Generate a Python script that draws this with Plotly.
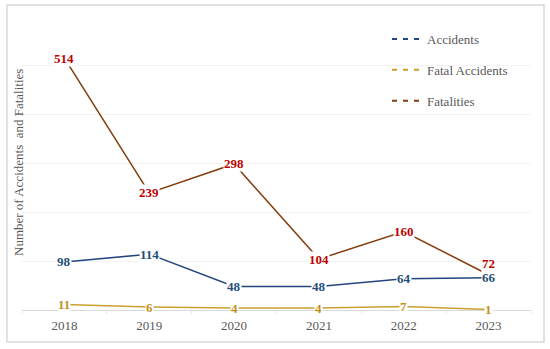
import plotly.graph_objects as go

years = ["2018", "2019", "2020", "2021", "2022", "2023"]
accidents = [98, 114, 48, 48, 64, 66]
fatal_accidents = [11, 6, 4, 4, 7, 1]
fatalities = [514, 239, 298, 104, 160, 72]

series = [
    ("Accidents", accidents, "#24467e", "#1f4e79"),
    ("Fatal Accidents", fatal_accidents, "#c9a030", "#c58f1f"),
    ("Fatalities", fatalities, "#843c0c", "#c00000"),
]

serif = "Liberation Serif"
fig = go.Figure()

for i, (name, vals, lc, tc) in enumerate(series):
    fig.add_trace(go.Scatter(x=years, y=vals, mode="lines", name=name,
                             line=dict(color=lc, width=1.5), showlegend=False,
                             hoverinfo="skip"))
    # legend entries with dashed symbol
    fig.add_trace(go.Scatter(x=[None], y=[None], mode="lines", name=name,
                             legendgroup=name,
                             line=dict(color=lc, width=2, dash="5px,6px")))
    for j, v in enumerate(vals):
        ys = 0
        if name == "Fatalities" and j == len(vals) - 1:
            ys = 11
        fig.add_annotation(x=j, y=v, xref="x", yref="y", text=f"<b>{v}</b>",
                           showarrow=False,
                           font=dict(family=serif, size=13, color=tc),
                           bgcolor="white", borderpad=0, yshift=ys)

W, H = 550, 349
ml, mr, mt, mb = 22, 19, 16, 39
pw, ph = W - ml - mr, H - mt - mb

def px(x):
    return (x - ml) / pw

def py(y):
    return (H - mb - y) / ph

fig.add_shape(type="rect", xref="paper", yref="paper",
              x0=px(7), x1=px(544), y0=py(342), y1=py(5),
              line=dict(color="#d9d9d9", width=1.5), layer="below")

fig.add_annotation(xref="paper", yref="paper", x=px(18), y=0.5,
                   text="Number of Accidents  and Fatalities", textangle=-90,
                   showarrow=False, xanchor="center", yanchor="middle",
                   font=dict(family=serif, size=13, color="#595959"))

fig.update_layout(
    width=W, height=H,
    margin=dict(l=ml, r=mr, t=mt, b=mb),
    paper_bgcolor="white", plot_bgcolor="white",
    showlegend=True,
    legend=dict(x=px(387), y=py(24), xanchor="left", yanchor="top",
                font=dict(family=serif, size=13, color="#595959"),
                tracegroupgap=11, itemwidth=30, bgcolor="rgba(0,0,0,0)"),
    xaxis=dict(type="category", range=[-0.5, 5.5], showline=True,
               linecolor="#d9d9d9", linewidth=1, showgrid=False,
               ticks="outside", ticklen=3, tickcolor="#e6e6e6",
               tickson="boundaries", ticklabelstandoff=3,
               tickfont=dict(family=serif, size=13, color="#595959")),
    yaxis=dict(range=[0, 600], dtick=100, showticklabels=False,
               showgrid=True, gridcolor="#f2f2f2", gridwidth=1,
               zeroline=False, showline=False),
)

fig.write_html("out.html", config={"displayModeBar": False},
               post_script="document.body.style.margin='0';document.body.style.padding='0';")
